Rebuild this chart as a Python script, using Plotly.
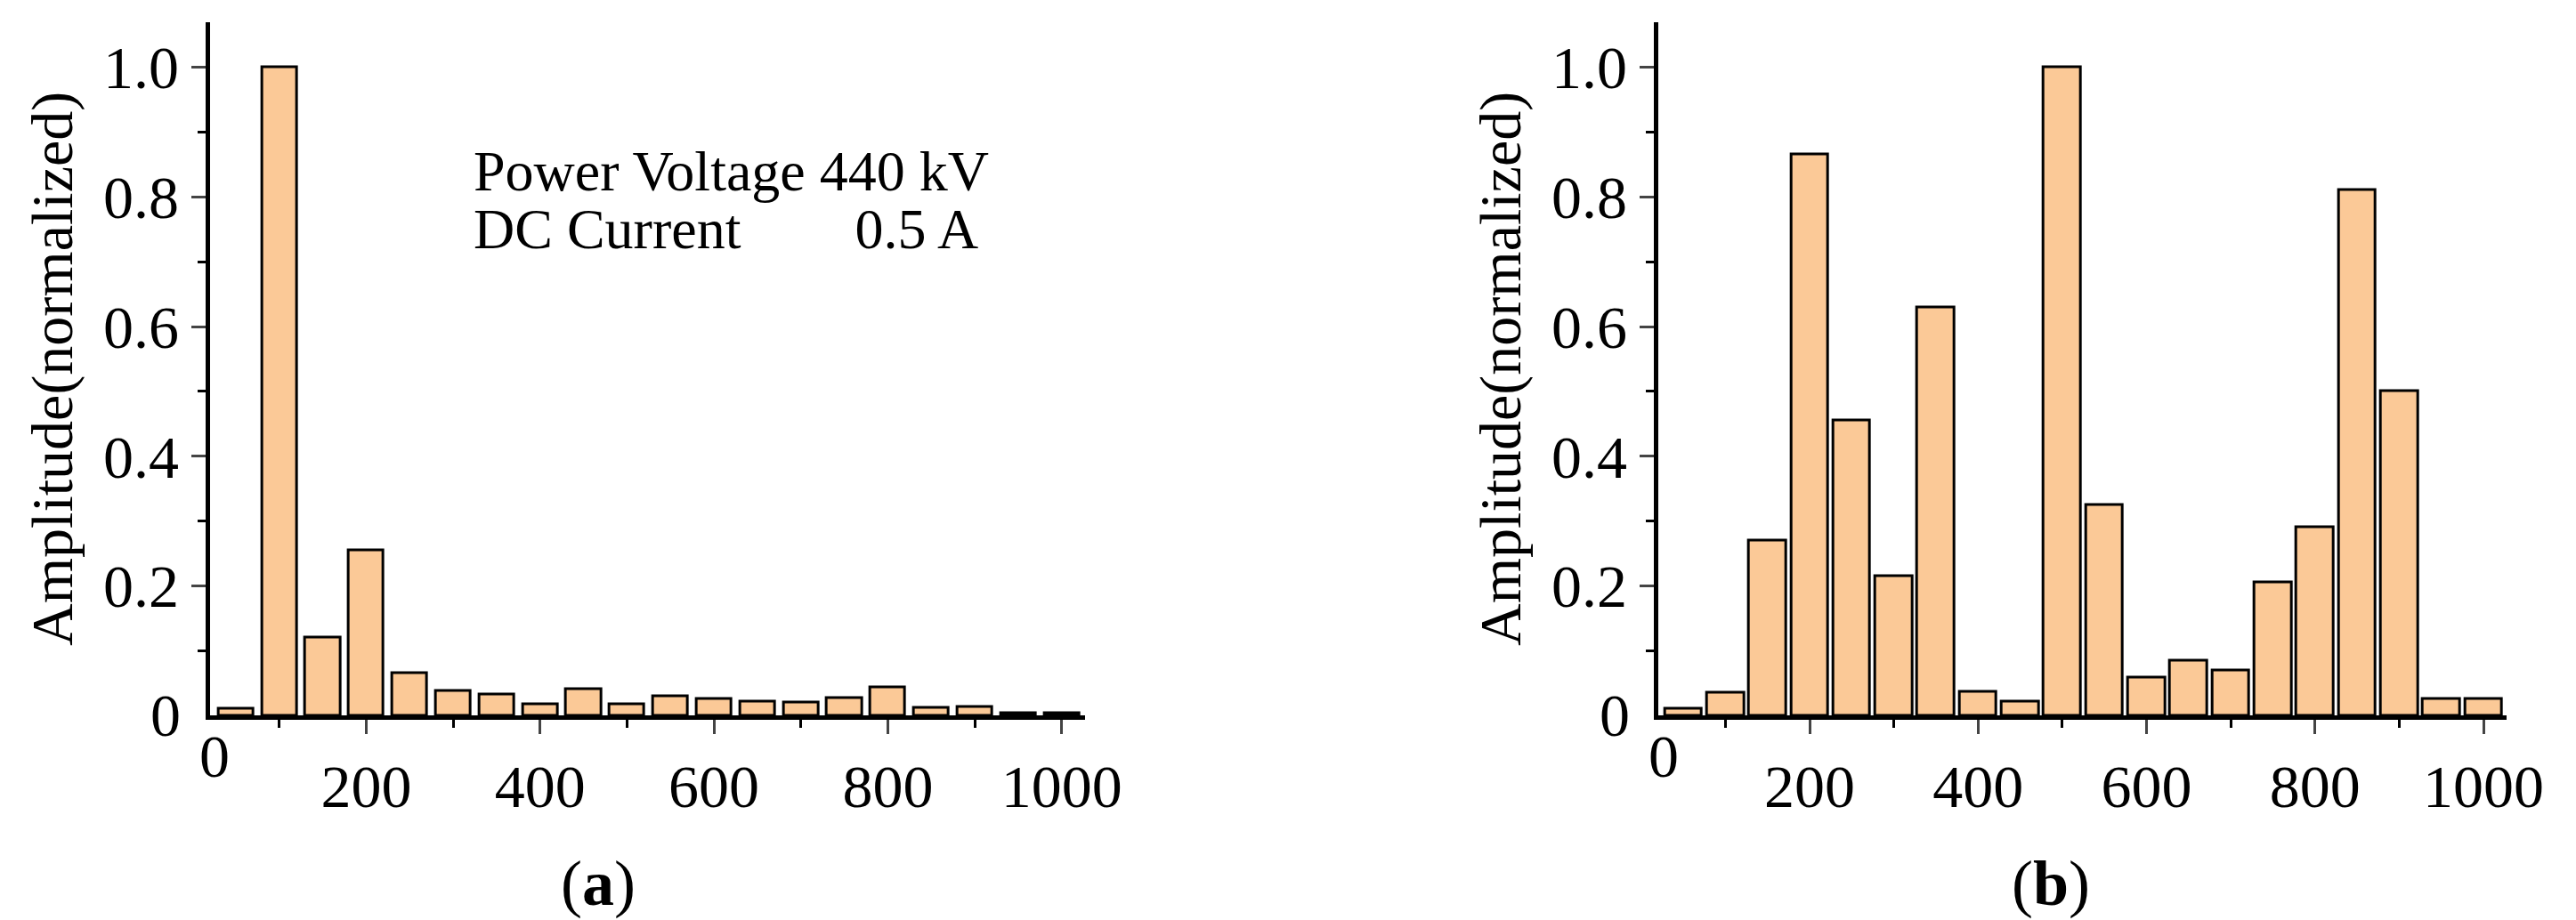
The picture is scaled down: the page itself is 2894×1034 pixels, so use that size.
import plotly.graph_objects as go

freq = [50,100,150,200,250,300,350,400,450,500,550,600,650,700,750,800,850,900,950,1000]
amp_a = [0.01,1.0,0.12,0.255,0.065,0.038,0.033,0.018,0.04,0.018,0.03,0.025,0.022,0.02,0.027,0.043,0.012,0.013,0.004,0.003]
amp_b = [0.01,0.035,0.27,0.865,0.455,0.215,0.63,0.037,0.022,1.0,0.325,0.058,0.085,0.07,0.205,0.29,0.81,0.5,0.025,0.025]
xticks = [200,400,600,800,1000]
yticks = [0.2,0.4,0.6,0.8,1.0]
ytick_text = ["0.2","0.4","0.6","0.8","1.0"]

FONT = "Liberation Serif"
W, H = 2894, 1034
fill = "#FBC997"

fig = go.Figure()
fig.add_trace(go.Bar(x=freq, y=amp_a, width=40, marker=dict(color=fill, line=dict(color="black", width=3)), xaxis="x", yaxis="y"))
fig.add_trace(go.Bar(x=freq, y=amp_b, width=44, marker=dict(color=fill, line=dict(color="black", width=3)), xaxis="x2", yaxis="y2"))

def xax(dom, anchor):
    return dict(domain=dom, anchor=anchor, range=[20, 1027], tickvals=xticks, ticks="outside", ticklen=16, tickwidth=3,
                showline=True, linewidth=5, linecolor="black", showgrid=False, zeroline=False,
                minor=dict(tickvals=[100,300,500,700,900], ticks="outside", ticklen=9, tickwidth=3, tickcolor="black"),
                tickfont=dict(family=FONT, size=68, color="black"))

def yax(anchor):
    return dict(domain=[0.23, 0.984], anchor=anchor, range=[0, 1.07], tickvals=yticks, ticktext=ytick_text,
                ticks="outside", ticklen=16, tickwidth=3, showline=True, linewidth=5, linecolor="black",
                showgrid=False, zeroline=False,
                title=dict(text="Amplitude(normalized)", standoff=14, font=dict(family=FONT, size=66, color="black")),
                minor=dict(tickvals=[0.1,0.3,0.5,0.7,0.9], ticks="outside", ticklen=9, tickwidth=3, tickcolor="black"),
                tickfont=dict(family=FONT, size=68, color="black"))

ann = []
def txt(x, y, s, size=68, xanchor="center"):
    ann.append(dict(x=x, y=y, xref="paper", yref="paper", text=s, showarrow=False, xanchor=xanchor, yanchor="middle",
                    font=dict(family=FONT, size=size, color="black")))

# zero labels
txt(236/W, 1 - 842/H, "0"); txt(1888/W, 1 - 842/H, "0")
txt(200/W, 1 - 796/H, "0", xanchor="right"); txt(1852/W, 1 - 796/H, "0", xanchor="right")
txt(530/W, 1 - 185/H, "Power Voltage 440 kV", size=64, xanchor="left")
txt(530/W, 1 - 250/H, "DC Current&nbsp;&nbsp;&nbsp;&nbsp;&nbsp;&nbsp;&nbsp;&nbsp;0.5 A", size=64, xanchor="left")
txt(674/W, 1 - 985/H, "(<b>a</b>)", size=72)
txt(2330/W, 1 - 985/H, "(<b>b</b>)", size=72)

fig.update_layout(
    width=W, height=H, margin=dict(l=0, r=0, t=0, b=0), plot_bgcolor="white", paper_bgcolor="white",
    showlegend=False, bargap=0,
    xaxis=xax([231/W, 1229/W], "y"), yaxis=yax("x"),
    xaxis2=xax([1882/W, 2849/W], "y2"), yaxis2=yax("x2"),
    annotations=ann,
)
fig.write_html("out.html")
